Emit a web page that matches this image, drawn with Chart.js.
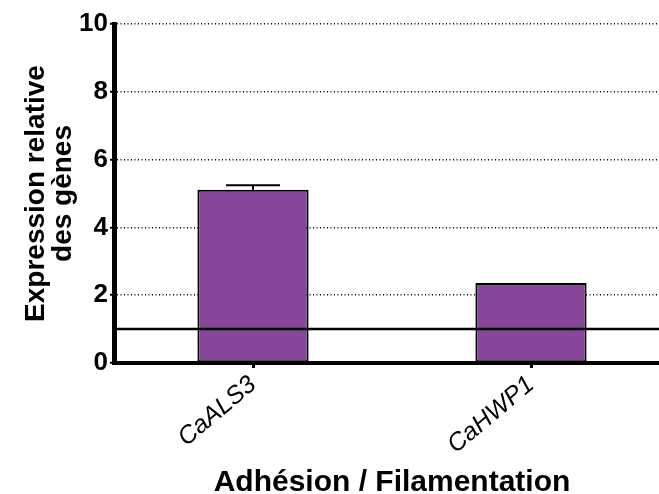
<!DOCTYPE html>
<html>
<head>
<meta charset="utf-8">
<script src="https://cdn.jsdelivr.net/npm/chart.js@4"></script>
<style>
  html, body { margin: 0; padding: 0; overflow: hidden; background: #fff; }
</style>
</head>
<body>
<canvas id="expression" width="670" height="494"></canvas>
<script>
const genes = ['CaALS3', 'CaHWP1'];
const expression = [5.11, 2.36];
const erreurs = [0.13, 0];
const yTicks = [0, 2, 4, 6, 8, 10];
const ligneReference = 1;

const violet = '#86479a';

// barres d'erreur + ligne de référence à 1
const extras = {
    id: 'extras',
    afterDatasetsDraw(chart) {
        const ctx = chart.ctx;
        const y = chart.scales.y;
        const area = chart.chartArea;
        const meta = chart.getDatasetMeta(0);
        ctx.save();
        ctx.strokeStyle = '#000';
        ctx.lineWidth = 2;
        meta.data.forEach((bar, i) => {
            if (!erreurs[i]) return;
            const yTop = y.getPixelForValue(expression[i] + erreurs[i]);
            ctx.beginPath();
            ctx.moveTo(bar.x, bar.y);
            ctx.lineTo(bar.x, yTop);
            ctx.moveTo(bar.x - 27, yTop);
            ctx.lineTo(bar.x + 27, yTop);
            ctx.stroke();
        });
        const yRef = y.getPixelForValue(ligneReference);
        ctx.lineWidth = 2.5;
        ctx.beginPath();
        ctx.moveTo(area.left, yRef);
        ctx.lineTo(area.right, yRef);
        ctx.stroke();
        ctx.restore();
    }
};

new Chart(document.getElementById('expression'), {
    type: 'bar',
    data: {
        labels: genes,
        datasets: [{
            data: expression,
            backgroundColor: violet,
            borderColor: '#000',
            borderWidth: 2,
            borderSkipped: false,
            barPercentage: 0.4,
            categoryPercentage: 1,
        }]
    },
    options: {
        responsive: false,
        animation: false,
        layout: { padding: { top: 24, right: 0, left: 0, bottom: 0 } },
        scales: {
            x: {
                grid: {
                    offset: false,
                    drawOnChartArea: false,
                    drawTicks: true,
                    tickLength: 5,
                    tickWidth: 3,
                    tickColor: '#000',
                },
                border: { display: true, color: '#000', width: 4 },
                ticks: {
                    color: '#000',
                    minRotation: 40,
                    maxRotation: 40,
                    padding: 2,
                    font: { family: 'Liberation Sans, Arial', size: 25, style: 'italic' },
                },
                title: {
                    display: true,
                    text: 'Adhésion / Filamentation',
                    color: '#000',
                    padding: { top: 0, bottom: -7 },
                    font: { family: 'Liberation Sans, Arial', size: 30, weight: 'bold' },
                },
                afterFit: scale => { scale.height = 131; },
            },
            y: {
                min: 0,
                max: 10,
                afterBuildTicks: scale => {
                    scale.ticks = yTicks.map(v => ({ value: v }));
                },
                grid: {
                    color: ctx => ctx.tick && ctx.tick.value === 0 ? 'rgba(0,0,0,0)' : '#000',
                    lineWidth: 1.5,
                    drawTicks: true,
                    tickLength: 4,
                    tickWidth: 2,
                    tickColor: '#000',
                    tickBorderDash: [],
                },
                border: { display: true, color: '#000', width: 5, dash: [1, 2.5] },
                ticks: {
                    color: '#000',
                    padding: 2,
                    font: { family: 'Liberation Sans, Arial', size: 26, weight: 'bold' },
                },
                title: {
                    display: true,
                    text: ['Expression relative', 'des gènes'],
                    color: '#000',
                    padding: { top: 23, bottom: 0 },
                    font: { family: 'Liberation Sans, Arial', size: 28, weight: 'bold', lineHeight: 0.95 },
                },
                afterFit: scale => { scale.width = 114; },
            }
        },
        plugins: {
            legend: { display: false },
            tooltip: { enabled: false },
        }
    },
    plugins: [extras]
});
</script>
</body>
</html>
